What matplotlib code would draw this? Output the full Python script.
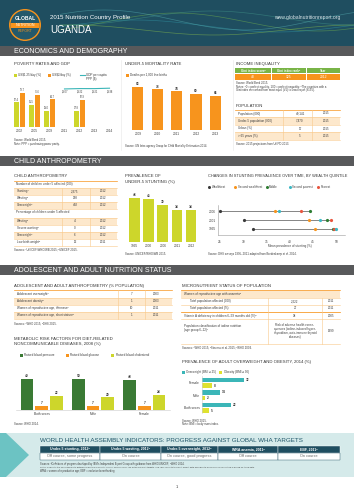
import matplotlib
matplotlib.use('Agg')
import matplotlib.pyplot as plt
from matplotlib.patches import Rectangle, Circle, Polygon
import numpy as np

plt.rcParams['font.family'] = ['Liberation Sans', 'DejaVu Sans']

W, H = 354, 500
nan = np.nan

# ---- data ----
pov_years = ['2002', '2005', '2009', '2011', '2012', '2013', '2014']
pov_125 = [57.4, 51.5, 38.0, nan, 37.8, nan, nan]
pov_2 = [79.7, 75.6, 64.7, nan, 62.9, nan, nan]
gdp_years = ['2011', '2012', '2013', '2014']
gdp = [1607, 1622, 1621, 1638]

u5_years = ['2009', '2010', '2011', '2012', '2013']
u5_mort = [83, 78, 74, 69, 66]

gini_head = ['Gini index score\u1d43', 'Gini index rank\u1d47', 'Year']
gini_vals = ['43', '125', '2012']

pop_labels = ['Population (000)', 'Under-5 population (000)', 'Urban (%)', '> 65 years (%)']
pop_values = ['40,141', '7,470', '17', '5']
pop_years = ['2015', '2015', '2015', '2015']

num_labels = ['Stunting\u1d43', 'Wasting\u1d43', 'Overweight\u1d43']
num_values = ['2,375', '298', '402']
num_years = ['2012', '2012', '2012']
pct_labels = ['Wasting\u1d43', 'Severe wasting\u1d43', 'Overweight\u1d43', 'Low birth weight\u1d47']
pct_values = ['4', '0', '6', '12']
pct_years = ['2012', '2012', '2012', '2011']

stunt_years = ['1995', '2000', '2006', '2011', '2012']
stunt = [46, 45, 39, 34, 34]

quint_years = ['1995', '2001', '2006']
quint_names = ['Wealthiest', 'Second wealthiest', 'Middle', 'Second poorest', 'Poorest']
wealthiest = [32.0, 30.2, 25.0]
second_wealthiest = [45.4, 44.1, 36.8]
middle = [49.3, 48.1, 44.3]
second_poorest = [49.9, 46.5, 37.7]
poorest = [49.6, 48.8, 42.5]

adol_labels = ['Adolescent overweight\u1d43', 'Adolescent obesity\u1d43',
               'Women of reproductive age, thinness\u1d47',
               'Women of reproductive age, short stature\u1d47']
adol_values = ['7', '1', '10', '1']
adol_years = ['2003', '2003', '2011', '2011']

micro_labels = ['Total population affected (000)', 'Total population affected (%)',
                'Vitamin A deficiency in children 6\u201359 months old (%)\u1d47']
micro_values = ['2,222', '27', '38']
micro_years = ['2011', '2011', '2005']

met_groups = ['Both sexes', 'Male', 'Female']
blood_pressure = [49, 50, 48]
blood_glucose = [7, 7, 7]
cholesterol = [22, 20, 24]

ow_groups = ['Female', 'Male', 'Both sexes']
overweight = [32, 14, 22]
obesity = [8, 2, 5]

wha_heads = ['Under-5 stunting, 2012\u1d43', 'Under-5 wasting, 2012\u1d43',
             'Under-5 overweight, 2012\u1d43', 'WRA anemia, 2011\u1d47', 'EBF, 2011\u1d43']
wha_status = ['Off course, some progress', 'On course', 'On course, good progress',
              'Off course', 'On course']

# ---- colours ----
ORANGE = '#f7941d'
YG = '#cdd62b'
DGREEN = '#3a7a34'
TEAL = '#3bb6b8'
NAVY = '#1f4e60'
GREY = '#58595b'
TXT = '#3c3c3c'
SHADE = '#fde8cc'
LINE = '#f9c98a'

fig = plt.figure(figsize=(W / 100, H / 100), dpi=100)
bg = fig.add_axes([0, 0, 1, 1])
bg.set_xlim(0, W)
bg.set_ylim(H, 0)
bg.axis('off')


def t(x, y, s, size=2.4, color=TXT, ha='left', va='center', weight='normal', **kw):
    bg.text(x, y, s, fontsize=size, color=color, ha=ha, va=va, fontweight=weight, **kw)


def rect(x0, y0, x1, y1, color, **kw):
    bg.add_patch(Rectangle((x0, y0), x1 - x0, y1 - y0, facecolor=color, edgecolor='none', **kw))


def hline(x0, x1, y, color=LINE, lw=0.4):
    bg.plot([x0, x1], [y, y], color=color, lw=lw)


def vline(x, y0, y1, color=LINE, lw=0.4):
    bg.plot([x, x], [y0, y1], color=color, lw=lw)


def ax_px(x0, y0, x1, y1):
    a = fig.add_axes([x0 / W, 1 - y1 / H, (x1 - x0) / W, (y1 - y0) / H])
    a.set_facecolor('none')
    return a


def title(x, y, s, size=3.1):
    t(x, y, s, size=size, color='#333333')


def section(y0, y1, s):
    rect(0, y0, W, y1, GREY)
    t(14, (y0 + y1) / 2 + 0.3, s, size=5.0, color='white')


def clean(a):
    for sp in a.spines.values():
        sp.set_visible(False)
    a.tick_params(length=0, labelsize=2.3, colors=TXT, pad=1.5)
    a.set_yticks([])


# ---- header ----
rect(0, 0, W, 46, NAVY)
xs = np.linspace(60, W, 300)
for amp, ph, yc, col in [(7, 0.0, 18, '#3f8f86'), (9, 0.8, 22, '#6aa84f'), (6, 1.7, 26, '#2f8fa0'),
                         (10, 2.4, 20, '#4fa3a8'), (5, 3.1, 30, '#7fb34d')]:
    bg.plot(xs, yc + amp * np.sin(xs / 45 + ph), color=col, lw=0.5, alpha=0.6)
bg.add_patch(Circle((25, 25), 16, facecolor=ORANGE, edgecolor='none'))
bg.add_patch(Circle((25, 25), 14.6, facecolor='#24596b', edgecolor='none'))
band = Rectangle((9, 22.5), 32, 5.2, facecolor=ORANGE, edgecolor='none')
bg.add_patch(band)
band.set_clip_path(Circle((25, 25), 14.6, transform=bg.transData))
t(25, 18, 'GLOBAL', size=3.6, color='white', ha='center', weight='bold')
t(25, 25.2, 'NUTRITION', size=2.6, color='white', ha='center')
t(25, 31, 'REPORT', size=2.6, color=ORANGE, ha='center')
t(50, 17, '2015 Nutrition Country Profile', size=4.4, color='white')
t(50, 30, 'UGANDA', size=7.0, color='white')
t(340, 17, 'www.globalnutritionreport.org', size=3.6, color='#d8e4e8', ha='right')

# ---- economics and demography ----
section(46, 56, 'ECONOMICS AND DEMOGRAPHY')
vline(121, 60, 150, color='#e6e6e6')
vline(233, 60, 150, color='#e6e6e6')

title(14, 64, 'POVERTY RATES AND GDP')
rect(14, 73.5, 17, 76.5, YG)
t(18.5, 75, 'US$1.25/day (%)', size=2.2)
rect(48, 73.5, 51, 76.5, ORANGE)
t(52.5, 75, 'US$2/day (%)', size=2.2)
hline(80, 85, 75, color=TEAL, lw=0.8)
t(86.5, 75, 'GDP per capita', size=2.2)
t(86.5, 79, 'PPP ($)', size=2.2)

ax = ax_px(12, 82, 117, 127)
x = np.arange(len(pov_years))
ax.bar(x - 0.18, pov_125, 0.34, color=YG)
ax.bar(x + 0.18, pov_2, 0.34, color=ORANGE)
for i in range(len(x)):
    if not np.isnan(pov_125[i]):
        ax.text(x[i] - 0.18, pov_125[i] + 1.5, f'{pov_125[i]:.1f}', ha='center', va='bottom', fontsize=1.8, color=TXT)
        ax.text(x[i] + 0.18, pov_2[i] + 1.5, f'{pov_2[i]:.1f}', ha='center', va='bottom', fontsize=1.8, color=TXT)
ax.set_xticks(x, pov_years)
ax.set_ylim(0, 105)
ax.set_xlim(-0.5, len(x) - 0.5)
clean(ax)
ax2 = ax.twinx()
gx = [pov_years.index(g) for g in gdp_years]
ax2.plot(gx, gdp, color=TEAL, lw=0.8)
for xi, g in zip(gx, gdp):
    ax2.text(xi, g - 40, f'{g:,}', ha='center', va='top', fontsize=1.8, color=TXT)
ax2.set_ylim(0, 1900)
ax2.axis('off')
t(14, 140, 'Source: World Bank 2015.', size=2.0)
t(14, 144, 'Note: PPP = purchasing power parity.', size=2.0)

title(125, 64, 'UNDER-5 MORTALITY RATE')
rect(126, 73.5, 129, 76.5, ORANGE)
t(130.5, 75, 'Deaths per 1,000 live births', size=2.2)
ax = ax_px(128.3, 80, 225, 130)
x = np.arange(len(u5_years))
ax.bar(x, u5_mort, 0.57, color=ORANGE)
for xi, v in zip(x, u5_mort):
    ax.text(xi, v + 1.5, str(v), ha='center', va='bottom', fontsize=2.3, color=TXT, fontweight='bold')
ax.set_xticks(x, u5_years)
ax.set_ylim(0, 95.8)
ax.set_xlim(-0.5, len(x) - 0.5)
clean(ax)
t(125, 146, 'Source: UN Inter-agency Group for Child Mortality Estimation 2014.', size=2.0)

title(236, 64, 'INCOME INEQUALITY')
cols = [(235, 271), (272, 305.5), (306.5, 340)]
for (c0, c1), h, v in zip(cols, gini_head, gini_vals):
    rect(c0, 68, c1, 73.3, '#79b447')
    rect(c0, 73.8, c1, 79.6, ORANGE)
    t((c0 + c1) / 2, 70.8, h, size=2.2, color='white', ha='center', weight='bold')
    t((c0 + c1) / 2, 76.8, v, size=2.4, color='white', ha='center')
t(236, 83.5, 'Source: World Bank 2015.', size=2.0)
t(236, 87, 'Notes: \u1d430 = perfect equality, 100 = perfect inequality. \u1d47The countries with a', size=2.0)
t(236, 90.5, 'Gini index are ranked from most equal (#1) to least equal (#155).', size=2.0)

title(236, 106, 'POPULATION')
ys = [113.5, 121, 128.5, 136]
hline(235, 340, 109.8, color=ORANGE, lw=0.5)
for i, (lab, v, yr) in enumerate(zip(pop_labels, pop_values, pop_years)):
    if i % 2 == 1:
        rect(235, ys[i] - 3.7, 340, ys[i] + 3.7, SHADE)
    hline(235, 340, ys[i] + 3.7)
    t(238, ys[i], lab, size=2.2)
    t(300, ys[i], v, size=2.2, ha='center')
    t(326, ys[i], yr, size=2.2, ha='center')
vline(283, 109.8, 139.7)
vline(312, 109.8, 139.7)
t(236, 143.5, 'Source: 2015 projections from UNPD 2013.', size=2.0)

# ---- child anthropometry ----
section(156, 166, 'CHILD ANTHROPOMETRY')
title(14, 176, 'CHILD ANTHROPOMETRY')
hline(14, 117, 180.5, color=ORANGE, lw=0.5)
t(16, 184, 'Number of children under 5 affected (000)', size=2.2)
hline(14, 117, 187.8)


def small_table(ys, labels, values, years, shade_first, top, x0=14, x1=117, xv=75, xy=103, sep=(62, 90)):
    for i, (y, lab, v, yr) in enumerate(zip(ys, labels, values, years)):
        if (i % 2 == 0) == shade_first:
            rect(x0, y - 3.5, x1, y + 3.5, SHADE)
        hline(x0, x1, y + 3.5)
        t(x0 + 3, y, lab, size=2.2)
        t(xv, y, v, size=2.2, ha='center')
        t(xy, y, yr, size=2.2, ha='center')
    for s in sep:
        vline(s, top, ys[-1] + 3.5)


small_table([191.3, 198.3, 205.3], num_labels, num_values, num_years, True, 187.8)
t(16, 212.5, 'Percentage of children under 5 affected', size=2.2)
hline(14, 117, 217.5)
small_table([221.3, 228.3, 235.3, 242.3], pct_labels, pct_values, pct_years, True, 217.5)
t(14, 249.5, 'Sources: \u1d43UNICEF/WHO/WB 2015; \u1d47UNICEF 2015.', size=2.0)

title(125, 176, 'PREVALENCE OF')
title(125, 182.5, 'UNDER-5 STUNTING (%)')
ax = ax_px(127.6, 190, 198.1, 242)
x = np.arange(len(stunt_years))
ax.bar(x, stunt, 0.76, color=YG)
for xi, v in zip(x, stunt):
    ax.text(xi, v + 1.2, str(v), ha='center', va='bottom', fontsize=2.3, color=TXT, fontweight='bold')
ax.set_xticks(x, stunt_years)
ax.set_ylim(0, 54.7)
ax.set_xlim(-0.5, len(x) - 0.5)
clean(ax)
t(125, 254, 'Source: UNICEF/WHO/WB 2015.', size=2.0)

title(208, 176, 'CHANGES IN STUNTING PREVALENCE OVER TIME, BY WEALTH QUINTILE', size=2.8)
qcols = ['#3a3a3a', ORANGE, '#2e7d32', '#3bb8c4', '#e8553e']
qx = [209, 235, 266.5, 290, 318]
for xx, c, n in zip(qx, qcols, quint_names):
    bg.plot(xx, 186.7, 'o', ms=2.2, color=c, mec='none')
    t(xx + 2.5, 186.7, n, size=2.1)
ax = ax_px(218, 205, 345, 235)
qvals = [wealthiest, second_wealthiest, middle, second_poorest, poorest]
order = [0, 1, 2, 4, 3]
for r in range(len(quint_years)):
    vals = [q[r] for q in qvals]
    ax.plot([min(vals), max(vals)], [r, r], color='#555555', lw=0.5, zorder=1)
    for k in order:
        ax.plot(qvals[k][r], r, 'o', ms=2.3, color=qcols[k], mec='none', zorder=2)
ax.set_xlim(24.57, 51.9)
ax.set_ylim(-0.686, 2.74)
ax.set_yticks(range(len(quint_years)), quint_years)
ax.set_xticks([25, 30, 35, 40, 45, 50])
for s in ['top', 'right']:
    ax.spines[s].set_visible(False)
for s in ['left', 'bottom']:
    ax.spines[s].set_color('#9a9a9a')
    ax.spines[s].set_linewidth(0.4)
ax.tick_params(length=0, labelsize=2.3, colors=TXT, pad=1.5)
ax.tick_params(axis='x', pad=3.5)
t(290, 245.5, 'Mean prevalence of stunting (%)', size=2.2, ha='center')
t(208, 253.5, 'Source: DHS surveys 1995\u20132011 adapted from Bredenkamp et al. 2014.', size=2.0)

# ---- adolescent and adult ----
section(265, 275, 'ADOLESCENT AND ADULT NUTRITION STATUS')
title(14, 285.7, 'ADOLESCENT AND ADULT ANTHROPOMETRY (% POPULATION)')
hline(14, 172, 290.3, color=ORANGE, lw=0.5)
small_table([294.2, 301.2, 308.2, 315.2], adol_labels, adol_values, adol_years, False, 290.3,
            x1=172, xv=131.5, xy=156, sep=(118, 145))
t(14, 324, 'Sources: \u1d43WHO 2015; \u1d47DHS 2015.', size=2.0)

title(182, 285.7, 'MICRONUTRIENT STATUS OF POPULATION')
hline(181, 340, 290.3, color=ORANGE, lw=0.5)
rect(181, 290.3, 340, 297.5, SHADE)
t(184, 293.9, 'Women of reproductive age with anaemia\u1d43', size=2.2)
hline(181, 340, 297.5)
mys = [301.2, 308.4, 315.6]
for y, lab, v, yr in zip(mys, micro_labels, micro_values, micro_years):
    t(184 if y > 310 else 190, y, lab, size=2.2)
    t(295, y, v, size=2.2, ha='center')
    t(331, y, yr, size=2.2, ha='center')
    hline(181, 340, y + 3.6)
hline(181, 340, 311.9, color=ORANGE, lw=0.5)
t(184, 326, 'Population classification of iodine nutrition', size=2.2)
t(184, 329.8, '(age group 6\u201312)\u1d9c', size=2.2)
for k, ln in enumerate(['Risk of adverse health conse-', 'quences (iodine-induced hyper-',
                        'thyroidism, auto-immune thyroid', 'diseases)']):
    t(295, 325 + k * 4.1, ln, size=2.1, ha='center')
t(331, 331, '1999', size=2.2, ha='center')
hline(181, 340, 343.5)
vline(268, 297.5, 343.5)
vline(322, 297.5, 343.5)
t(182, 347.5, 'Sources: \u1d43WHO 2015; \u1d47Stevens et al. 2015; \u1d9cWHO 2004.', size=2.0)

title(14, 339, 'METABOLIC RISK FACTORS FOR DIET-RELATED')
title(14, 344, 'NONCOMMUNICABLE DISEASES, 2008 (%)')
for xx, c, n in [(20, DGREEN, 'Raised blood pressure'), (66, ORANGE, 'Raised blood glucose'),
                 (111, YG, 'Raised blood cholesterol')]:
    rect(xx, 353.5, xx + 3, 356.5, c)
    t(xx + 4.5, 355, n, size=2.2)
ax = ax_px(16, 372.4, 170, 410)
x = np.arange(len(met_groups))
for off, vals, c in [(-0.286, blood_pressure, DGREEN), (0, blood_glucose, ORANGE), (0.286, cholesterol, YG)]:
    ax.bar(x + off, vals, 0.247, color=c)
    for xi, v in zip(x, vals):
        ax.text(xi + off, v + 1.5, str(v), ha='center', va='bottom', fontsize=2.3, color=TXT, fontweight='bold')
ax.set_xticks(x, met_groups)
ax.set_ylim(0, 60)
ax.set_xlim(-0.5, 2.5)
clean(ax)
ax.spines['bottom'].set_visible(True)
ax.spines['bottom'].set_color('#cccccc')
ax.spines['bottom'].set_linewidth(0.4)
t(14, 424, 'Source: WHO 2014.', size=2.0)

title(182, 362.3, 'PREVALENCE OF ADULT OVERWEIGHT AND OBESITY, 2014 (%)')
rect(182, 370.5, 185, 373.5, TEAL)
t(186.5, 372, 'Overweight (BMI \u2265 25)', size=2.2)
rect(219, 370.5, 222, 373.5, '#dfe22f')
t(223.5, 372, 'Obesity (BMI \u2265 30)', size=2.2)
ax = ax_px(202, 376, 340, 413)
y = np.arange(len(ow_groups))
ax.barh(y - 0.23, overweight, 0.36, color=TEAL)
ax.barh(y + 0.23, obesity, 0.36, color='#dfe22f')
for yi, a, b in zip(y, overweight, obesity):
    ax.text(a + 1.5, yi - 0.23, str(a), va='center', fontsize=2.3, color=TXT, fontweight='bold')
    ax.text(b + 1.5, yi + 0.23, str(b), va='center', fontsize=2.3, color=TXT, fontweight='bold')
ax.set_xlim(0, 106)
ax.set_ylim(2.42, -0.54)
clean(ax)
ax.set_xticks([])
ax.set_yticks(y, ow_groups)
ax.spines['left'].set_visible(True)
ax.spines['left'].set_color('#cccccc')
ax.spines['left'].set_linewidth(0.4)
t(182, 420.5, 'Source: WHO 2015.', size=2.0)
t(182, 424.5, 'Note: BMI = body mass index.', size=2.0)

# ---- WHA band ----
rect(0, 433, W, 477, '#d5eaea')
bg.add_patch(Polygon([(0, 433), (6, 433), (29, 455), (6, 477), (0, 477)], facecolor='#6cc3c3', edgecolor='none'))
t(40, 441, 'WORLD HEALTH ASSEMBLY INDICATORS: PROGRESS AGAINST GLOBAL WHA TARGETS', size=4.5, color='#1f5568')
edges = [40, 100, 160.7, 218.3, 278.3, 340]
for i in range(5):
    bg.add_patch(Rectangle((edges[i], 445.5), edges[i + 1] - edges[i], 7, facecolor=NAVY, edgecolor='white', lw=0.3))
    bg.add_patch(Rectangle((edges[i], 452.5), edges[i + 1] - edges[i], 7, facecolor='white', edgecolor=NAVY, lw=0.3))
    cx = (edges[i] + edges[i + 1]) / 2
    t(cx, 449, wha_heads[i], size=2.5, color='white', ha='center', weight='bold')
    t(cx, 456, wha_status[i], size=2.8, color='#666666', ha='center')
t(40, 464, 'Sources: \u1d43Definitions of progress developed by IBM\u2019s Independent Expert Group with guidance from WHO/UNICEF; \u1d47WHO 2014.', size=1.8)
t(40, 467.5, 'Notes: Currently it is only possible to determine whether a country is on or off course for five of the six WHA targets. '
  'The year refers to the most recent data available to which course calculation is based on trend data.', size=1.6)
t(40, 471, 'WRA = women of reproductive age; EBF = exclusive breastfeeding.', size=1.8)

t(177, 487, '1', size=3.0, ha='center')

fig.savefig('out.png', dpi=100)
